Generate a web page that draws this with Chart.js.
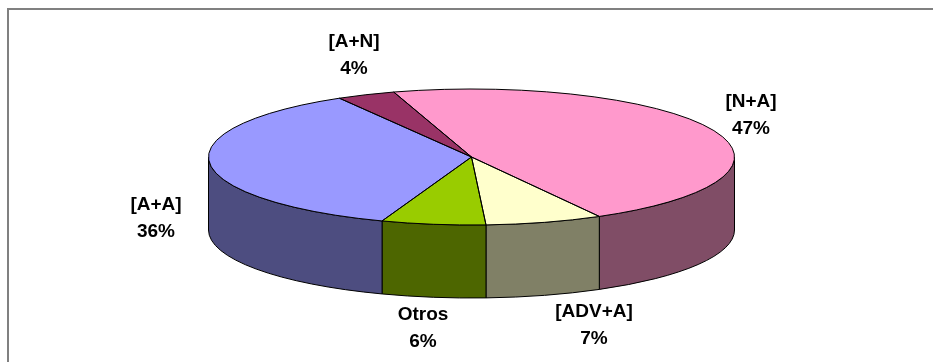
<!DOCTYPE html>
<html lang="es">
<head>
<meta charset="utf-8">
<title>Patrones</title>
<script src="https://cdn.jsdelivr.net/npm/chart.js@4"></script>
<style>
	html, body { margin: 0; padding: 0; background: #fff; overflow: hidden; }
	#frame { position: absolute; left: 7px; top: 8px; right: 0; bottom: 0; border-left: 2px solid #808080; border-top: 2px solid #808080; }
	#chart-pie { position: absolute; left: 0; top: 0; }
</style>
</head>
<body>
<div id="frame"></div>
<canvas id="chart-pie" width="933" height="362"></canvas>
<script>
const categories = ["[N+A]", "[ADV+A]", "Otros", "[A+A]", "[A+N]"];
// the labels show these rounded
const shares = [46.7, 7.2, 6.4, 36.1, 3.6];

const topColors = ["#FF99CC", "#FFFFCC", "#99CC00", "#9999FF", "#993366"];
const sideColors = ["#804D66", "#808066", "#4D6600", "#4D4D80", "#4D1A33"];

// centre of each two-line label, same order as categories
const labelCenters = [[751, 115.5], [594, 325], [423, 328], [156, 218.5], [354, 55]];

const tilt = { cx: 471.5, cy: 157, rx: 263, ry: 68, depth: 73 };

const applyTilt = (ctx, arc) => {
	ctx.translate(tilt.cx, tilt.cy);
	ctx.scale(tilt.rx / arc.outerRadius, tilt.ry / arc.outerRadius);
	ctx.translate(-arc.x, -arc.y);
};

const drawWall = (ctx, arc, fill) => {
	// only the part of the rim facing the viewer, canvas angles 0..PI
	const TAU = Math.PI * 2;
	let start = arc.startAngle % TAU;
	if (start < 0) start += TAU;
	let end = start + (arc.endAngle - arc.startAngle);
	if (start >= Math.PI && end <= TAU) return;
	if (start >= Math.PI) {
		start = 0;
		end -= TAU;
	}
	end = Math.min(end, Math.PI);

	ctx.beginPath();
	ctx.ellipse(tilt.cx, tilt.cy, tilt.rx, tilt.ry, 0, start, end);
	ctx.ellipse(tilt.cx, tilt.cy + tilt.depth, tilt.rx, tilt.ry, 0, end, start, true);
	ctx.closePath();
	ctx.fillStyle = fill;
	ctx.fill();
	ctx.stroke();
};

const pie3dPlugin = {
	id: "pie3d",
	beforeDatasetsDraw(chart) {
		const { ctx } = chart;
		const arcs = chart.getDatasetMeta(0).data;
		ctx.save();
		ctx.strokeStyle = "#000";
		ctx.lineWidth = 1;
		arcs.forEach((arc, i) => drawWall(ctx, arc, sideColors[i]));
		ctx.restore();
		ctx.save();
		applyTilt(ctx, arcs[0]);
	},
	afterDatasetsDraw(chart) {
		const { ctx } = chart;
		ctx.restore();
		// outlines stroked outside the squash so the line keeps an even width
		chart.getDatasetMeta(0).data.forEach(arc => {
			ctx.save();
			ctx.beginPath();
			ctx.save();
			applyTilt(ctx, arc);
			ctx.moveTo(arc.x, arc.y);
			ctx.arc(arc.x, arc.y, arc.outerRadius, arc.startAngle, arc.endAngle);
			ctx.closePath();
			ctx.restore();
			ctx.strokeStyle = "#000";
			ctx.lineWidth = 1;
			ctx.stroke();
			ctx.restore();
		});
	},
	afterDraw(chart) {
		const { ctx } = chart;
		ctx.save();
		ctx.font = "bold 19px 'Liberation Sans', Arial, sans-serif";
		ctx.fillStyle = "#000";
		ctx.textAlign = "center";
		ctx.textBaseline = "middle";
		categories.forEach((name, i) => {
			const [x, y] = labelCenters[i];
			ctx.fillText(name, x, y - 13.5);
			ctx.fillText(`${Math.round(shares[i])}%`, x, y + 13.5);
		});
		ctx.restore();
	}
};

const renderPie = () => {
	const ctx = document.getElementById("chart-pie").getContext("2d");
	new Chart(ctx, {
		type: "pie",
		data: {
			labels: categories,
			datasets: [
				{
					data: shares,
					backgroundColor: topColors,
					borderWidth: 0
				}
			]
		},
		options: {
			responsive: false,
			animation: false,
			rotation: -17.2,
			plugins: {
				legend: { display: false },
				tooltip: { enabled: false }
			}
		},
		plugins: [pie3dPlugin]
	});
};

document.addEventListener("DOMContentLoaded", renderPie);
</script>
</body>
</html>
